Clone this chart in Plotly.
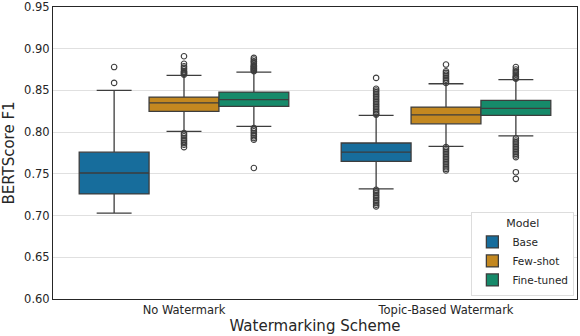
import plotly.graph_objects as go

# categories
schemes = ["No Watermark", "Topic-Based Watermark"]
models = ["Base", "Few-shot", "Fine-tuned"]
colors = ["#176d9c", "#c38820", "#168a6a"]
yticks = [0.60, 0.65, 0.70, 0.75, 0.80, 0.85, 0.90, 0.95]

# box stats, [model][scheme]
lowerfence = [[0.703, 0.732], [0.801, 0.783], [0.807, 0.7955]]
q1 = [[0.726, 0.765], [0.825, 0.810], [0.831, 0.820]]
median = [[0.751, 0.776], [0.835, 0.8206], [0.839, 0.8285]]
q3 = [[0.776, 0.787], [0.842, 0.830], [0.848, 0.838]]
upperfence = [[0.850, 0.820], [0.868, 0.858], [0.872, 0.863]]

# outliers, [model][scheme]
outliers = [
    [
        [0.859, 0.878],
        [0.865, 0.852, 0.850, 0.848, 0.846, 0.844, 0.842, 0.840, 0.838, 0.836,
         0.834, 0.832, 0.830, 0.828, 0.826, 0.824, 0.822, 0.821,
         0.731, 0.729, 0.727, 0.725, 0.723, 0.721, 0.719, 0.717, 0.715, 0.713, 0.711],
    ],
    [
        [0.891, 0.882, 0.879, 0.877, 0.875, 0.873, 0.872, 0.871, 0.870, 0.869,
         0.799, 0.797, 0.795, 0.793, 0.791, 0.789, 0.787, 0.785, 0.782],
        [0.881, 0.873, 0.871, 0.869, 0.867, 0.865, 0.863, 0.861, 0.859,
         0.782, 0.780, 0.778, 0.776, 0.774, 0.772, 0.770, 0.768, 0.766, 0.764,
         0.762, 0.760, 0.758, 0.756, 0.754],
    ],
    [
        [0.889, 0.887, 0.885, 0.884, 0.882, 0.880, 0.879, 0.878, 0.877, 0.876,
         0.875, 0.874, 0.873,
         0.805, 0.803, 0.801, 0.799, 0.797, 0.795, 0.793, 0.791, 0.757],
        [0.878, 0.875, 0.873, 0.871, 0.869, 0.867, 0.866, 0.865, 0.864,
         0.7925, 0.790, 0.788, 0.786, 0.784, 0.782, 0.780, 0.778, 0.776, 0.774,
         0.772, 0.770, 0.752, 0.744],
    ],
]

edge = "#3d3d3d"
group_w = 0.8
bw = group_w / len(models)

fig = go.Figure()
for m, name in enumerate(models):
    off = (m - (len(models) - 1) / 2) * bw
    pos = [i + off for i in range(len(schemes))]
    fig.add_trace(go.Box(
        x=pos, q1=q1[m], median=median[m], q3=q3[m],
        lowerfence=lowerfence[m], upperfence=upperfence[m],
        name=name, width=bw, boxpoints=False,
        fillcolor=colors[m], line=dict(color=edge, width=1.3),
        whiskerwidth=0.5,
    ))
    xs, ys = [], []
    for i in range(len(schemes)):
        xs += [pos[i]] * len(outliers[m][i])
        ys += outliers[m][i]
    fig.add_trace(go.Scatter(
        x=xs, y=ys, mode="markers", showlegend=False, hoverinfo="y",
        marker=dict(symbol="circle-open", size=5.5, color=edge,
                    line=dict(width=1.1, color=edge)),
    ))

fig.update_layout(
    width=580, height=336,
    margin=dict(l=53, r=3, t=7, b=37),
    plot_bgcolor="white", paper_bgcolor="white",
    font=dict(family="DejaVu Sans", size=11.5, color="#262626"),
    boxmode="overlay",
    legend=dict(
        title=dict(text="Model", side="top center", font=dict(size=11)),
        x=0.995, xanchor="right", y=0.01, yanchor="bottom",
        bgcolor="white", bordercolor="#dddddd", borderwidth=1,
        font=dict(size=10.5), tracegroupgap=0, itemwidth=30,
    ),
)
fig.update_xaxes(
    range=[-0.5, 1.5], tickvals=list(range(len(schemes))), ticktext=schemes,
    showgrid=False, zeroline=False, showline=True, mirror=True,
    linecolor="#262626", linewidth=1, ticks="", automargin=False,
    title=dict(text="Watermarking Scheme", font=dict(size=15), standoff=4),
)
fig.update_yaxes(
    range=[0.60, 0.95], tickvals=yticks, tickformat=".2f",
    showgrid=True, gridcolor="#e0e0e0", gridwidth=1,
    zeroline=False, showline=True, mirror=True, automargin=False,
    linecolor="#262626", linewidth=1, ticks="",
    title=dict(text="BERTScore F1", font=dict(size=15), standoff=5),
)

# page body has a default 8px margin, drop it so the figure sits at 0,0
fig.write_html("out.html", config={"displayModeBar": False},
               post_script="document.body.style.margin='0';")
